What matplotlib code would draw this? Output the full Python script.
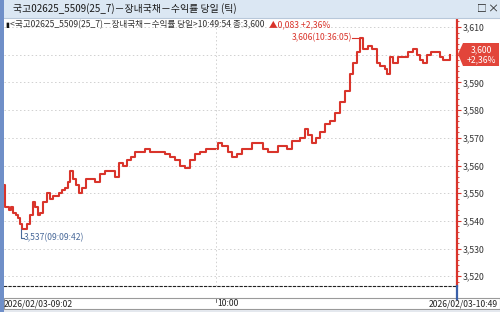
import matplotlib
matplotlib.use("Agg")
import matplotlib.pyplot as plt
from matplotlib.patches import Rectangle, Polygon
from matplotlib.lines import Line2D
from matplotlib.ticker import MultipleLocator, FuncFormatter

plt.rcParams['font.family'] = ['Noto Sans CJK KR', 'DejaVu Sans']

# tick sequence number and yield (x1000)
tick_no = [0, 1, 3, 5, 7, 9, 12, 14, 16, 18, 21, 23, 26, 29, 31, 34, 36, 39, 43, 46,
           49, 52, 55, 58, 61, 64, 66, 69, 72, 75, 78, 82, 86, 91, 96, 101, 106, 111,
           115, 119, 123, 127, 131, 136, 141, 146, 151, 156, 161, 166, 171, 176, 181,
           186, 191, 196, 202, 208, 214, 218, 224, 228, 233, 238, 243, 248, 254, 259,
           264, 269, 274, 280, 283, 288, 293, 296, 301, 304, 308, 312, 316, 321, 326,
           331, 336, 341, 346, 349, 353, 356, 359, 364, 368, 373, 376, 381, 383, 386,
           389, 394, 399, 404, 409, 413, 416, 419, 423, 427, 431, 436, 439, 443, 446]
price = [3553, 3545, 3545, 3544, 3545, 3543, 3542, 3541, 3539, 3537, 3537, 3539, 3542,
         3547, 3545, 3542, 3543, 3547, 3550, 3548, 3549, 3549, 3550, 3551, 3552, 3554,
         3558, 3555, 3553, 3550, 3552, 3555, 3555, 3554, 3557, 3558, 3558, 3556, 3561,
         3560, 3562, 3563, 3565, 3565, 3566, 3565, 3565, 3565, 3564, 3563, 3562, 3560,
         3559, 3562, 3564, 3565, 3566, 3566, 3568, 3567, 3565, 3563, 3564, 3566, 3566,
         3568, 3568, 3566, 3565, 3565, 3567, 3567, 3566, 3569, 3569, 3570, 3573, 3571,
         3568, 3570, 3572, 3575, 3576, 3579, 3583, 3587, 3593, 3597, 3601, 3606, 3602,
         3603, 3602, 3597, 3596, 3595, 3593, 3599, 3597, 3599, 3599, 3601, 3602, 3600,
         3598, 3597, 3600, 3601, 3601, 3599, 3598, 3598, 3600]
time_ticks = [0, 212, 453]
time_labels = ["2026/02/03-09:02", "10:00", "2026/02/03-10:49"]
last_price = "3,600"
last_change = "+2,36%"

RED = "#d9342b"
W, H = 500, 312

fig = plt.figure(figsize=(W / 100, H / 100), dpi=100)

def fx(px):
    return px / W

def fy(py):
    return 1 - py / H

# window chrome
fig.patches.append(Rectangle((0, fy(18)), 1, 18 / H, transform=fig.transFigure,
                             facecolor="#dbe7f3", edgecolor="none"))
fig.lines.append(Line2D([0, 1], [fy(18), fy(18)], transform=fig.transFigure,
                        color="#b8c8da", lw=0.8))
fig.patches.append(Rectangle((0, 0), 3.5 / W, 1, transform=fig.transFigure,
                             facecolor="#6f8fc8", edgecolor="none", zorder=5))
fig.text(fx(13), fy(9), "국고02625_5509(25_7)－장내국채－수익률 당일 (틱)",
         fontsize=7.1, color="#1a1a1a", va="center")
fig.text(fx(482), fy(9), "□", fontsize=7, color="#222", va="center", ha="center")
fig.text(fx(493), fy(9), "×", fontsize=8, color="#222", va="center", ha="center")

ax = fig.add_axes([fx(4), fy(286), fx(453), (286 - 18) / H])
ax.step(tick_no, price, where="post", color=RED, lw=1.5)
ax.set_xlim(0, 453)
ax.set_ylim(3516.5, 3613.25)

ax.yaxis.tick_right()
ax.yaxis.set_major_locator(MultipleLocator(10))
ax.yaxis.set_minor_locator(MultipleLocator(2))
# the 3,600 label sits under the last-price box
ax.yaxis.set_major_formatter(FuncFormatter(lambda v, p: "" if round(v) == 3600 else f"{int(round(v)):,}"))
ax.tick_params(axis="y", which="major", length=3, color=RED, labelsize=6.3,
               labelcolor="#333333", pad=1)
ax.tick_params(axis="y", which="minor", length=1.5, color=RED)
ax.set_xticks([])
ax.grid(axis="y", color="#d0d0d0", ls=(0, (1.5, 2.5)), lw=0.7)
ax.axvline(time_ticks[1], color="#d0d0d0", ls=(0, (1.5, 2.5)), lw=0.7)
for s in ["top", "left"]:
    ax.spines[s].set_visible(False)
ax.spines["right"].set_color(RED)
ax.spines["right"].set_linewidth(1.6)
ax.spines["bottom"].set_linestyle((0, (2, 2)))
ax.spines["bottom"].set_linewidth(0.8)
ax.spines["bottom"].set_color("#222")

# header line
fig.text(fx(5), fy(25), "▮", fontsize=5, color="#111", va="center")
fig.text(fx(10), fy(25), "<국고02625_5509(25_7)－장내국채－수익률 당일>10:49:54 종:3,600",
         fontsize=6.2, color="#333", va="center")
fig.text(fx(269), fy(25), "▲0,083 +2,36%", fontsize=6.2, color=RED, va="center")

# min / max annotations
i_max = price.index(max(price))
i_min = price.index(min(price))
ax.plot([tick_no[i_max] - 8, tick_no[i_max]], [max(price), max(price)], color=RED, lw=0.8)
ax.text(tick_no[i_max] - 8, max(price), "3,606(10:36:05)", color=RED, fontsize=6.2,
        ha="right", va="center")
ax.plot([tick_no[i_min] - 1, tick_no[i_min] - 1, tick_no[i_min] + 2],
        [min(price), min(price) - 3.2, min(price) - 3.2], color="#4a6a9a", lw=0.8)
ax.text(tick_no[i_min] + 2, min(price) - 3.2, "3,537(09:09:42)", color="#4a6a9a",
        fontsize=6.2, ha="left", va="center")

# last price box
box = Polygon([(fx(458), fy(54)), (fx(463), fy(43)), (fx(499), fy(43)),
               (fx(499), fy(66)), (fx(463), fy(66))], closed=True,
              transform=fig.transFigure, facecolor="#e2453a", edgecolor="none", zorder=6)
fig.patches.append(box)
fig.text(fx(481), fy(49.5), last_price, fontsize=6.2, color="white", ha="center",
         va="center", zorder=7)
fig.text(fx(481), fy(59.5), last_change, fontsize=6.2, color="white", ha="center",
         va="center", zorder=7)

# x axis band
fig.lines.append(Line2D([fx(457), fx(457)], [fy(286), fy(299)], transform=fig.transFigure,
                        color="#3a5fa8", lw=1.6))
fig.patches.append(Rectangle((fx(3.5), fy(309)), fx(496), 11 / H, transform=fig.transFigure,
                             facecolor="white", edgecolor="#9a9a9a", lw=0.8))
fig.patches.append(Rectangle((0, 0), 1, fy(310), transform=fig.transFigure,
                             facecolor="#e4e8ee", edgecolor="none"))
fig.text(fx(4), fy(304), time_labels[0], fontsize=6.2, color="#222", va="center")
x10 = fx(4) + fx(453) * time_ticks[1] / 453
fig.lines.append(Line2D([x10, x10], [fy(299), fy(302)], transform=fig.transFigure,
                        color="#555", lw=0.6))
fig.text(x10 + fx(1), fy(304), time_labels[1], fontsize=6.2, color="#222", va="center")
fig.text(fx(498), fy(304), time_labels[2], fontsize=6.2, color="#222", va="center",
         ha="right")

fig.savefig("out.png", dpi=100)
